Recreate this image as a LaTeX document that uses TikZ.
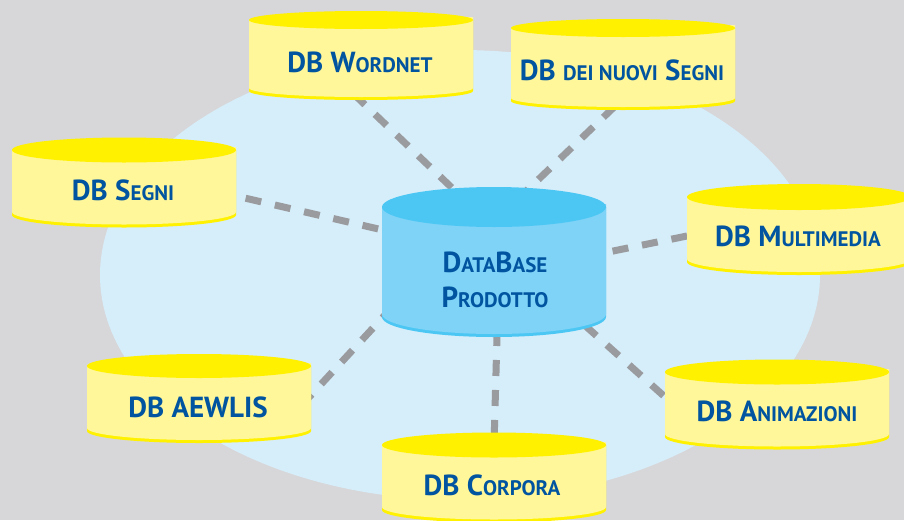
\documentclass[tikz,border=0pt]{standalone}
\usepackage{fontspec}
\setmainfont{PT Sans}
\usetikzlibrary{backgrounds}

\definecolor{panelgray}{RGB}{215,215,217}
\definecolor{hallblue}{RGB}{214,237,250}
\definecolor{dbyellow}{RGB}{255,241,0}
\definecolor{dbpale}{RGB}{255,247,153}
\definecolor{hubtop}{RGB}{76,199,244}
\definecolor{hubbody}{RGB}{126,211,247}
\definecolor{linkgray}{RGB}{153,155,158}
\definecolor{labelblue}{RGB}{0,84,160}

% small capitals
\newcommand\smc[1]{{\fontsize{21}{23}\selectfont\MakeUppercase{#1}}}

% cylinder: x centre, y of top ellipse, y where sides end, half width, y radius, rim colour, body colour
\newcommand\dbcyl[7]{%
  \fill[#6] (#1-#4,#2) -- (#1-#4,#3) arc[start angle=180,end angle=360,x radius=#4,y radius=#5] -- (#1+#4,#2) -- cycle;
  \fill[#7] (#1-#4,#2) -- (#1-#4,#3+3) arc[start angle=180,end angle=360,x radius=#4,y radius=#5] -- (#1+#4,#2+3) -- cycle;
  \fill[#6] (#1,#2) ellipse[x radius=#4,y radius=#5];
}

\tikzset{
  dblabel/.style={text=labelblue, font=\bfseries\fontsize{29}{35}\selectfont, inner sep=0pt},
  link/.style={draw=linkgray, line width=7pt, dash pattern=on 16pt off 14pt, shorten >=-25pt},
}

\begin{document}
\begin{tikzpicture}[x=1pt,y=1pt]
\useasboundingbox (0,0) rectangle (904,-520);
% cylinders
\dbcyl{361}{-20}{-91}{112}{9}{dbyellow}{dbpale}
\dbcyl{623}{-28}{-101}{112}{9}{dbyellow}{dbpale}
\dbcyl{124}{-150}{-215}{112}{12.5}{dbyellow}{dbpale}
\dbcyl{799}{-197}{-262}{112}{13}{dbyellow}{dbpale}
\dbcyl{199}{-366}{-431}{112}{12}{dbyellow}{dbpale}
\dbcyl{777}{-372}{-437}{112}{12.5}{dbyellow}{dbpale}
\dbcyl{494}{-445}{-510}{112}{12.5}{dbyellow}{dbpale}
\dbcyl{494}{-207}{-317}{112}{20}{hubtop}{hubbody}
% labels
\node[dblabel] (wordnet) at (360,-62) {DB W\smc{ordnet}};
\node[dblabel] (nuovi) at (622,-70) {DB \smc{dei nuovi} S\smc{egni}};
\node[dblabel] (segni) at (123,-190) {DB S\smc{egni}};
\node[dblabel] (multimedia) at (798,-236) {DB M\smc{ultimedia}};
\node[dblabel] (aewlis) at (198,-407) {DB AEWLIS};
\node[dblabel] (animazioni) at (777,-411) {DB A\smc{nimazioni}};
\node[dblabel] (corpora) at (492,-485) {DB C\smc{orpora}};
\node[dblabel, align=center] (prodotto) at (495,-280) {D\smc{ata}B\smc{ase}\\P\smc{rodotto}};
\begin{scope}[on background layer]
\fill[panelgray] (0,0) rectangle (904,-520);
\fill[hallblue] (460,-275) ellipse[x radius=360, y radius=225];
\draw[link] ([yshift=51]prodotto.center) -- ([yshift=-38]wordnet.center);
\draw[link] ([yshift=59]prodotto.center) -- ([xshift=-11,yshift=-40]nuovi.center);
\draw[link] ([yshift=24]prodotto.center) -- ([xshift=113,yshift=-6]segni.center);
\draw[link] ([yshift=5]prodotto.center) -- ([xshift=-111]multimedia.center);
\draw[link] ([yshift=84]prodotto.center) -- ([xshift=114,yshift=13]aewlis.center);
\draw[link] ([yshift=35]prodotto.center) -- ([xshift=-112,yshift=14]animazioni.center);
\draw[link] ([xshift=3,yshift=-20]prodotto.center) -- ([xshift=2,yshift=40]corpora.center);
\end{scope}
\end{tikzpicture}
\end{document}
